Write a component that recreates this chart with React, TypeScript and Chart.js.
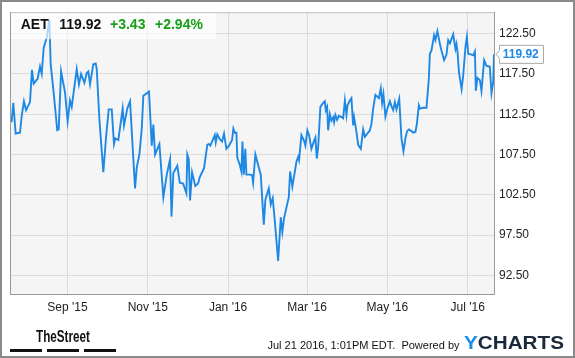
import { useEffect, useRef } from "react";
import { Chart, registerables } from "chart.js";

Chart.register(...registerables);

// x = days since 2015-07-21
const days = [
  -0.5, 0.8, 2.6, 5.9, 7.2, 8.9, 10.5, 13.5, 15.0, 16.3, 19.3, 21.1, 22.4, 23.9, 26.2, 28.2, 29.2, 31.2,
  34.2, 35.3, 37.1, 40.1, 42.1, 43.9, 45.2, 49.0, 50.7, 52.3, 54.8, 56.6, 57.8, 59.1, 61.6, 63.4, 64.2,
  66.2, 69.2, 71.3, 73.3, 75.6, 77.3, 78.3, 80.6, 83.9, 84.9, 87.4, 89.5, 93.3, 94.6, 96.6, 98.4, 99.6,
  103.9, 106.0, 107.2, 108.5, 111.8, 114.8, 117.4, 119.9, 121.0, 122.4, 125.4, 127.3, 129.8, 132.3, 133.0,
  134.1, 135.1, 136.6, 139.1, 141.2, 142.5, 145.7, 148.2, 149.3, 150.5, 151.8, 153.9, 154.6, 155.8, 157.7,
  159.4, 160.9, 162.7, 164.7, 167.0, 168.0, 169.1, 170.3, 171.0, 172.9, 174.1, 174.9, 175.9, 177.1, 177.9,
  180.5, 182.2, 183.0, 184.7, 186.8, 188.8, 191.1, 192.3, 194.9, 196.4, 197.9, 199.5, 202.0, 204.0, 205.2,
  206.5, 210.1, 211.1, 212.8, 215.9, 217.2, 217.9, 219.7, 221.7, 222.7, 224.2, 225.5, 227.3, 229.1, 230.3,
  231.4, 232.4, 234.1, 236.2, 237.5, 238.2, 239.2, 240.0, 241.3, 242.5, 243.8, 244.5, 245.5, 246.8, 248.1,
  250.6, 251.4, 252.7, 253.9, 254.7, 256.5, 257.7, 259.0, 259.7, 261.5, 262.8, 264.8, 266.6, 267.9, 271.7,
  272.9, 274.2, 275.9, 278.5, 280.0, 281.0, 282.0, 283.5, 285.0, 286.9, 288.1, 289.4, 290.7, 291.9, 294.0,
  295.7, 297.2, 298.7, 300.0, 301.3, 303.3, 304.6, 306.3, 307.4, 308.9, 309.7, 312.2, 314.7, 316.5, 317.3,
  318.5, 320.5, 321.5, 323.0, 324.9, 326.1, 328.1, 329.9, 331.2, 332.5, 335.0, 336.7, 337.5, 338.3, 339.4,
  341.4, 342.6, 344.3, 345.4, 346.4, 348.9, 350.2, 351.5, 352.2, 353.4, 355.3, 356.5, 358.5, 360.3, 362.8,
  364.1, 365.4, 366.0,
];

const prices = [
  111.5, 113.9, 110.1, 110.2, 112.3, 114.1, 113.0, 114.0, 118.0, 116.3, 116.9, 118.4, 117.5, 120.75, 122.0, 124.2, 118.7, 115.6,
  110.5, 110.6, 117.8, 115.2, 111.6, 114.2, 113.4, 118.1, 116.2, 117.5, 116.4, 117.6, 117.8, 116.2, 118.7, 118.8, 118.1,
  111.9, 105.3, 109.7, 113.1, 113.1, 108.8, 109.5, 109.3, 113.2, 111.1, 113.2, 114.1, 103.3, 105.9, 107.5, 110.7, 114.8,
  115.3, 108.6, 111.2, 107.5, 108.8, 102.2, 105.0, 106.9, 99.8, 105.2, 106.1, 104.0, 103.9, 102.7, 107.5,
  106.9, 101.8, 105.3, 103.6, 103.9, 104.7, 105.8, 108.7, 108.8, 108.6, 109.1, 109.9, 109.0, 110.0, 109.4,
  109.1, 110.1, 108.2, 108.6, 109.3, 110.7, 110.2, 110.2, 107.1, 106.2, 105.4, 109.1, 105.0, 108.2, 105.0,
  105.0, 104.95, 104.0, 107.5, 106.2, 105.0, 98.8, 101.9, 103.3, 101.3, 102.1, 99.2, 94.3, 99.7, 97.9,
  99.6, 102.2, 105.4, 103.5, 106.6, 107.2, 106.8, 109.9, 109.2, 108.6, 110.5, 109.9, 108.2, 109.1, 109.6,
  107.0, 108.4, 113.4, 113.9, 114.1, 113.0, 113.4, 110.5, 112.5, 111.7, 112.1, 111.5, 112.4, 111.8, 112.3,
  112.1, 112.0, 114.2, 112.4, 113.6, 114.2, 114.5, 111.1, 112.1, 110.3, 108.7, 108.2, 110.6, 109.7, 110.5,
  111.3, 113.2, 114.9, 114.5, 115.7, 113.9, 115.0, 112.2, 113.2, 114.1, 113.5, 113.0, 114.0, 113.1, 114.4,
  109.5, 107.9, 109.5, 110.4, 110.6, 110.4, 110.2, 110.3, 111.3, 113.6, 113.2, 113.3, 113.3, 116.9, 120.0,
  120.4, 122.3, 121.7, 122.8, 121.2, 120.4, 119.2, 119.9, 121.7, 121.3, 122.4, 120.6, 121.2, 120.2, 117.7,
  115.6, 117.3, 120.8, 122.1, 120.0, 119.9, 119.8, 120.3, 115.4, 117.0, 116.7, 115.4, 119.2, 118.5, 118.4,
  115.1, 116.5, 119.92,
];

const monthTickDays = [42, 103, 164, 224, 285, 346];
const monthTickLabels = ["Sep '15", "Nov '15", "Jan '16", "Mar '16", "May '16", "Jul '16"];
const priceTicks = [92.5, 97.5, 102.5, 107.5, 112.5, 117.5, 122.5];

const symbol = "AET";
const lastPriceText = "119.92";
const changeText = "+3.43";
const changePctText = "+2.94%";
const timestampText = "Jul 21 2016, 1:01PM EDT.  Powered by";

const FONT = "'Liberation Sans', Arial, Helvetica, sans-serif";
const LINE_COLOR = "#1e88e5";

const decorPlugin = {
  id: "decor",
  beforeDraw(chart: any) {
    const { ctx, chartArea, width, height } = chart;
    ctx.save();
    ctx.fillStyle = "#ffffff";
    ctx.fillRect(0, 0, width, height);
    ctx.fillStyle = "#f5f5f5";
    ctx.fillRect(chartArea.left, chartArea.top, chartArea.right - chartArea.left, chartArea.bottom - chartArea.top);
    ctx.restore();
  },
  afterDraw(chart: any) {
    const { ctx, chartArea, width, height } = chart;
    ctx.save();
    // plot frame
    ctx.strokeStyle = "#bdbdbd";
    ctx.lineWidth = 1;
    ctx.beginPath();
    ctx.moveTo(chartArea.left, chartArea.top + 0.5);
    ctx.lineTo(chartArea.right, chartArea.top + 0.5);
    ctx.stroke();
    ctx.strokeStyle = "#999999";
    ctx.beginPath();
    ctx.moveTo(chartArea.left + 0.5, chartArea.top);
    ctx.lineTo(chartArea.left + 0.5, chartArea.bottom + 1);
    ctx.stroke();

    // header box
    ctx.fillStyle = "rgba(255,255,255,0.65)";
    ctx.fillRect(chartArea.left + 1, chartArea.top + 1, 205, 26);
    ctx.textBaseline = "alphabetic";
    ctx.textAlign = "left";
    ctx.font = `bold 14px ${FONT}`;
    ctx.fillStyle = "#111111";
    ctx.fillText(symbol, 20.7, 29);
    ctx.fillText(lastPriceText, 59.3, 29);
    ctx.fillStyle = "#17a017";
    ctx.fillText(changeText, 110, 29);
    ctx.fillText(changePctText, 155, 29);

    // last value label
    const ys = chart.scales.y;
    const py = ys.getPixelForValue(prices[prices.length - 1]);
    const bx = 499.5, bw = 44, bh = 18;
    ctx.beginPath();
    ctx.moveTo(496, py);
    ctx.lineTo(bx, py - 4);
    ctx.lineTo(bx, py - bh / 2);
    ctx.lineTo(bx + bw, py - bh / 2);
    ctx.lineTo(bx + bw, py + bh / 2);
    ctx.lineTo(bx, py + bh / 2);
    ctx.lineTo(bx, py + 4);
    ctx.closePath();
    ctx.fillStyle = "#ffffff";
    ctx.fill();
    ctx.strokeStyle = "#aaaaaa";
    ctx.lineWidth = 1;
    ctx.stroke();
    ctx.fillStyle = LINE_COLOR;
    ctx.font = `bold 12px ${FONT}`;
    ctx.textBaseline = "middle";
    ctx.fillText(lastPriceText, 502.7, py + 0.5);

    // footer: TheStreet
    ctx.fillStyle = "#111111";
    ctx.textBaseline = "alphabetic";
    ctx.font = `bold 17px 'Liberation Sans Narrow', ${FONT}`;
    const tsW = ctx.measureText("TheStreet").width;
    ctx.save();
    ctx.translate(36, 342);
    ctx.scale(54 / tsW, 1);
    ctx.fillText("TheStreet", 0, 0);
    ctx.restore();
    ctx.fillRect(10, 349, 32, 3);
    ctx.fillRect(47, 349, 32, 3);
    ctx.fillRect(84, 349, 32, 3);

    // footer text
    ctx.font = `11px ${FONT}`;
    ctx.fillStyle = "#111111";
    ctx.textBaseline = "middle";
    ctx.textAlign = "right";
    ctx.fillText(timestampText, 459.5, 345.5);
    ctx.textAlign = "left";

    // YCHARTS logo
    ctx.textBaseline = "alphabetic";
    ctx.font = `bold 19px ${FONT}`;
    const fullW = ctx.measureText("YCHARTS").width;
    const yW = ctx.measureText("Y").width;
    ctx.save();
    ctx.translate(464, 348.5);
    ctx.scale(100 / fullW, 1);
    ctx.fillStyle = "#1a8ee8";
    ctx.fillText("Y", 0, 0);
    ctx.fillStyle = "#1b2a3b";
    ctx.fillText("CHARTS", yW, 0);
    ctx.restore();

    // outer border
    ctx.strokeStyle = "#8a8a8a";
    ctx.lineWidth = 2;
    ctx.strokeRect(1, 1, width - 2, height - 2);
    ctx.restore();
  },
};

export default function App() {
  const ref = useRef<HTMLCanvasElement>(null);

  useEffect(() => {
    if (!ref.current) return;
    const chart = new Chart(ref.current, {
      type: "line",
      data: {
        datasets: [
          {
            data: days.map((d, i) => ({ x: d, y: prices[i] })),
            borderColor: LINE_COLOR,
            borderWidth: 1.9,
            pointRadius: 0,
            tension: 0,
            fill: false,
          },
        ],
      },
      options: {
        animation: false,
        responsive: false,
        devicePixelRatio: 1,
        layout: { padding: { left: 10, top: 10, right: 0, bottom: 0 } },
        plugins: { legend: { display: false }, tooltip: { enabled: false } },
        scales: {
          x: {
            type: "linear",
            min: -1.7,
            max: 366,
            afterBuildTicks: (s: any) => {
              s.ticks = monthTickDays.map((v) => ({ value: v }));
            },
            afterFit: (s: any) => {
              s.height = 64;
            },
            ticks: {
              autoSkip: false,
              maxRotation: 0,
              padding: 6,
              color: "#222222",
              font: { family: FONT, size: 12 },
              callback: (v: any) => monthTickLabels[monthTickDays.indexOf(Number(v))] ?? "",
            },
            grid: { color: "#dcdcdc", drawTicks: false, lineWidth: 1 },
            border: { display: true, color: "#999999" },
          },
          y: {
            type: "linear",
            position: "right",
            min: 90.2,
            max: 125.15,
            afterBuildTicks: (s: any) => {
              s.ticks = priceTicks.map((v) => ({ value: v }));
            },
            afterFit: (s: any) => {
              s.width = 81;
            },
            ticks: {
              padding: 5,
              color: "#222222",
              font: { family: FONT, size: 12 },
              callback: (v: any) => Number(v).toFixed(2),
            },
            grid: { color: "#dcdcdc", drawTicks: false, lineWidth: 1 },
            border: { display: true, color: "#999999" },
          },
        },
      },
      plugins: [decorPlugin],
    } as any);
    return () => chart.destroy();
  }, []);

  return (
    <div style={{ position: "fixed", left: 0, top: 0, width: 575, height: 358 }}>
      <canvas ref={ref} width={575} height={358} style={{ display: "block", width: 575, height: 358 }} />
    </div>
  );
}
